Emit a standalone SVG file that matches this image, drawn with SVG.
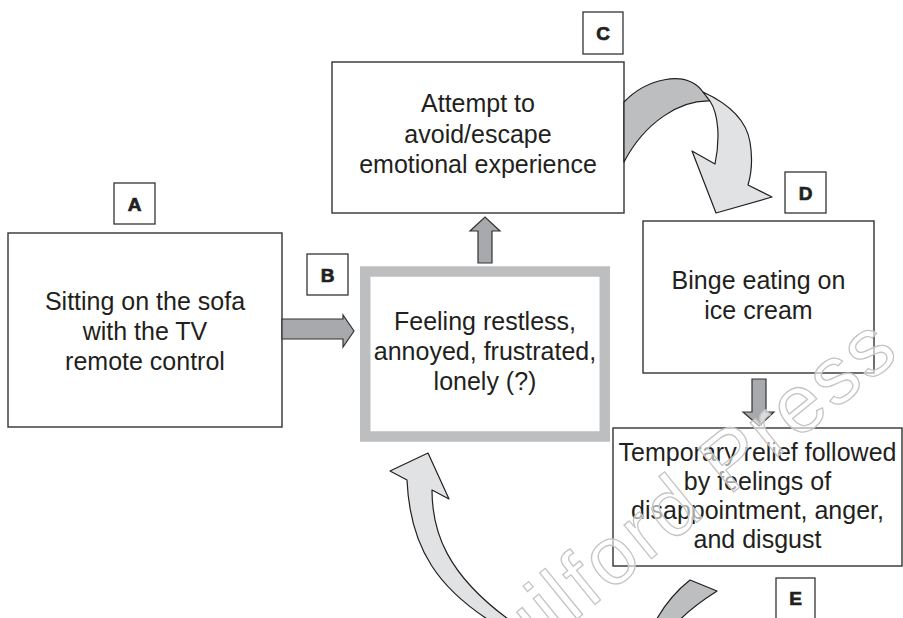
<svg xmlns="http://www.w3.org/2000/svg" width="903" height="618" viewBox="0 0 903 618">
<style>
.box{fill:#fff;stroke:#333;stroke-width:1.4}
.lbl{fill:#fff;stroke:#333;stroke-width:1.3}
.lt{font-family:"Liberation Sans",Arial,sans-serif;font-weight:bold;font-size:19px;fill:#231f20;stroke:#231f20;stroke-width:0.7;text-anchor:middle}
.t{font-family:"Liberation Sans",Arial,sans-serif;font-size:25px;fill:#231f20;text-anchor:middle}
.sa{fill:#a7a9ac;stroke:#333;stroke-width:1.2;stroke-linejoin:miter}
.dk{fill:#bcbec0;stroke:#231f20;stroke-width:1.2;stroke-linejoin:round}
.lg{fill:#e1e2e4;stroke:#231f20;stroke-width:1.2;stroke-linejoin:round}
.wm{font-family:"Liberation Sans",Arial,sans-serif;font-size:82px;letter-spacing:3px;fill:#fff;fill-opacity:0.6;stroke:#c4c4c4;stroke-width:1.3}
</style>
<rect width="903" height="618" fill="#fff"/>
<g id="nodeA">
<rect class="lbl" x="114" y="183" width="41" height="41"/>
<text class="lt" x="134.5" y="210.5">A</text>
<rect class="box" x="8" y="233" width="274" height="194"/>
<text class="t" x="145" y="310">Sitting on the sofa</text>
<text class="t" x="145" y="340">with the TV</text>
<text class="t" x="145" y="370">remote control</text>
</g>
<g id="nodeB">
<rect class="lbl" x="307" y="254" width="41" height="41"/>
<text class="lt" x="327.5" y="281.5">B</text>
<rect x="365.25" y="271.5" width="239.5" height="165" fill="#fff" stroke="#bcbec0" stroke-width="10.5"/>
<text class="t" x="485" y="330">Feeling restless,</text>
<text class="t" x="485" y="360">annoyed, frustrated,</text>
<text class="t" x="485" y="390">lonely (?)</text>
</g>
<g id="nodeC">
<rect class="lbl" x="583" y="12" width="40" height="42"/>
<text class="lt" x="603" y="39.5">C</text>
<rect class="box" x="332" y="62" width="292" height="151"/>
<text class="t" x="478" y="112">Attempt to</text>
<text class="t" x="478" y="143">avoid/escape</text>
<text class="t" x="478" y="173">emotional experience</text>
</g>
<g id="nodeD">
<rect class="lbl" x="785" y="172" width="41" height="41"/>
<text class="lt" x="805.5" y="199.5">D</text>
<rect class="box" x="643" y="221" width="231" height="152"/>
<text class="t" x="758.5" y="289">Binge eating on</text>
<text class="t" x="758.5" y="319">ice cream</text>
</g>
<g id="nodeE">
<rect class="box" x="613" y="428" width="289" height="138"/>
<text class="t" x="757.5" y="461">Temporary relief followed</text>
<text class="t" x="757.5" y="490">by feelings of</text>
<text class="t" x="757.5" y="519">disappointment, anger,</text>
<text class="t" x="757.5" y="548">and disgust</text>
<rect class="lbl" x="776" y="578" width="39" height="50"/>
<text class="lt" x="795.5" y="605">E</text>
</g>
<g id="connectors">
<path class="sa" d="M282,319 L343,319 L343,315 L354,331 L343,347 L343,339 L282,339 Z"/>
<path class="sa" d="M478,263 L478,231 L470,231 L485,217 L500,231 L492,231 L492,263 Z"/>
<path class="sa" d="M752,379 L766,379 L766,412 L774,412 L759,426 L743,412 L752,412 Z"/>
<path class="dk" d="M624,102 C645,80 685,68 703,92 L710,101 C680,100 645,122 624,162 Z"/>
<path class="lg" d="M703,92 C727,103 746,118 750,142 C753,160 751,175 748,185 L772,197 L716,213 L692,151 L715,164 C720,140 719,115 710,101 Z"/>
<path class="dk" d="M690,580 L717,591 C703,600 688,610 676,624 L654,624 C664,605 676,591 690,580 Z"/>
<path class="lg" d="M428,453 L449,499 L432,490 C432,530 445,575 515,624 L495,624 C440,590 410,550 407,480 L390,471 Z"/>
</g>
<text class="wm" transform="translate(903,355) rotate(-39)" text-anchor="end">Guilford Press</text>
</svg>
